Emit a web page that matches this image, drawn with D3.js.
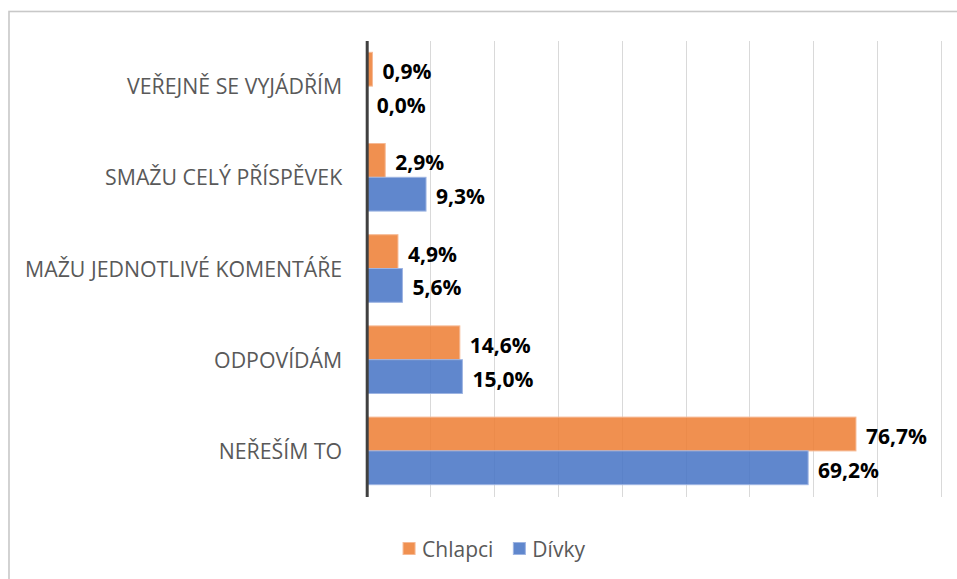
<!DOCTYPE html>
<html>
<head>
<meta charset="utf-8">
<script src="https://cdn.jsdelivr.net/npm/d3@7"></script>
<style>
  html, body { margin: 0; padding: 0; background: #fff; }
  svg { display: block; }
</style>
</head>
<body>
<svg id="chart" width="957" height="579"></svg>
<script>
// ---- data ----
const categories = ["VEŘEJNĚ SE VYJÁDŘÍM", "SMAŽU CELÝ PŘÍSPĚVEK", "MAŽU JEDNOTLIVÉ KOMENTÁŘE", "ODPOVÍDÁM", "NEŘEŠÍM TO"];
const seriesNames = ["Chlapci", "Dívky"];
const chlapci = [0.9, 2.9, 4.9, 14.6, 76.7];
const divky   = [0.0, 9.3, 5.6, 15.0, 69.2];
const xTicks  = [0, 10, 20, 30, 40, 50, 60, 70, 80, 90];
const seriesValues = [chlapci, divky];

// ---- layout ----
const W = 957, H = 579;
const plot = { left: 366.7, right: 940.8, top: 40.5, bottom: 496.5 };
const colors = ["#ED7D31", "#4472C4"];
const strokes = ["#f6b994", "#9db4e2"];
const font = "'Open Sans', sans-serif";
const fs = 21;

const svg = d3.select("#chart");

// outer frame
svg.append("rect")
  .attr("x", 9).attr("y", 11.5)
  .attr("width", W + 10).attr("height", H + 10)
  .attr("fill", "none").attr("stroke", "#c8c8c8").attr("stroke-width", 1.6);

const x = d3.scaleLinear().domain([0, 90]).range([plot.left, plot.right]);
const y = d3.scaleBand().domain(categories).range([plot.top, plot.bottom])
  .paddingInner(0.259).paddingOuter(0.1295);
const ySub = d3.scaleBand().domain(seriesNames).range([0, y.bandwidth()]);

// gridlines via axis
const grid = svg.append("g")
  .attr("transform", `translate(0,${plot.bottom})`)
  .call(d3.axisBottom(x).tickValues(xTicks.filter(d => d > 0))
    .tickSize(-(plot.bottom - plot.top)).tickFormat(""));
grid.select(".domain").remove();
grid.selectAll(".tick line").attr("stroke", "#d9d9d9").attr("stroke-width", 1)
  .attr("shape-rendering", "crispEdges");

// bars
const rows = categories.map((c, i) => ({ c, vals: seriesValues.map((s, j) => ({ name: seriesNames[j], v: s[i], j })) }));
const gRow = svg.append("g").selectAll("g").data(rows).join("g")
  .attr("transform", d => `translate(0,${y(d.c)})`);

gRow.selectAll("rect").data(d => d.vals).join("rect")
  .attr("x", x(0))
  .attr("y", d => ySub(d.name))
  .attr("width", d => Math.max(0, x(d.v) - x(0)))
  .attr("height", ySub.bandwidth())
  .attr("fill", d => colors[d.j])
  .attr("fill-opacity", 0.85)
  .attr("stroke", d => d.v > 0 ? strokes[d.j] : "none")
  .attr("stroke-width", 1);

gRow.selectAll("text.val").data(d => d.vals).join("text")
  .attr("class", "val")
  .attr("x", d => x(d.v) + 10)
  .attr("y", d => ySub(d.name) + ySub.bandwidth() / 2 + 10)
  .attr("font-family", font).attr("font-weight", "bold").attr("font-size", fs)
  .attr("fill", "#000")
  .text(d => d.v.toFixed(1).replace(".", ",") + "%");

// category axis
const yAxis = svg.append("g")
  .attr("transform", `translate(${x(0)},0)`)
  .call(d3.axisLeft(y).tickSize(0).tickPadding(24.5));
yAxis.select(".domain").attr("stroke", "#404040").attr("stroke-width", 3);
yAxis.selectAll(".tick text")
  .attr("font-family", font).attr("font-size", 21.3).attr("fill", "#595959")
  .attr("dy", null).attr("y", 8);

// legend
const legend = svg.append("g");
const items = legend.selectAll("g").data(seriesNames).join("g");
items.append("rect").attr("width", 12).attr("height", 12).attr("y", 542.5)
  .attr("fill", (d, i) => colors[i]).attr("fill-opacity", 0.85)
  .attr("stroke", (d, i) => strokes[i]).attr("stroke-width", 1);
items.append("text").attr("x", 19).attr("y", 557)
  .attr("font-family", font).attr("font-size", fs).attr("fill", "#595959")
  .text(d => d);
let off = 0;
items.each(function () {
  const w = this.querySelector("text").getComputedTextLength();
  d3.select(this).attr("transform", `translate(${off},0)`);
  off += 19 + w + 20;
});
const total = off - 20;
legend.attr("transform", `translate(${494 - total / 2},0)`);
</script>
</body>
</html>
